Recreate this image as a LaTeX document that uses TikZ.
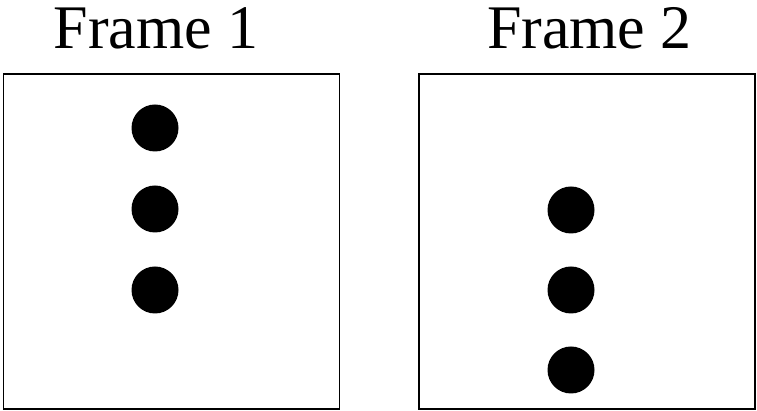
\documentclass[tikz,border=0pt]{standalone}
\usepackage{fontspec}
\setmainfont{Liberation Serif}
\begin{document}
\begin{tikzpicture}[x=1pt,y=1pt,
  framebox/.style={draw=black,line width=1.8pt},
  dot/.style={circle,fill=black,inner sep=0pt,minimum size=47pt},
  title/.style={font=\fontsize{62}{62}\selectfont,anchor=base,inner sep=0pt}]
  \useasboundingbox (0,0) rectangle (757,411);
  % titles
  \node[title] (t1) at (156,362) {Frame 1};
  \node[title] (t2) at (589.5,362) {Frame 2};
  % frames
  \draw[framebox] (3.5,2) rectangle (339.5,337);
  \draw[framebox] (419.3,2) rectangle (755,337);
  % dots in frame 1
  \node[dot] (a1) at (155,283) {};
  \node[dot] (a2) at (155,202) {};
  \node[dot] (a3) at (155,121) {};
  % dots in frame 2
  \node[dot] (b1) at (571,201) {};
  \node[dot] (b2) at (571,121) {};
  \node[dot] (b3) at (571,41) {};
\end{tikzpicture}
\end{document}
